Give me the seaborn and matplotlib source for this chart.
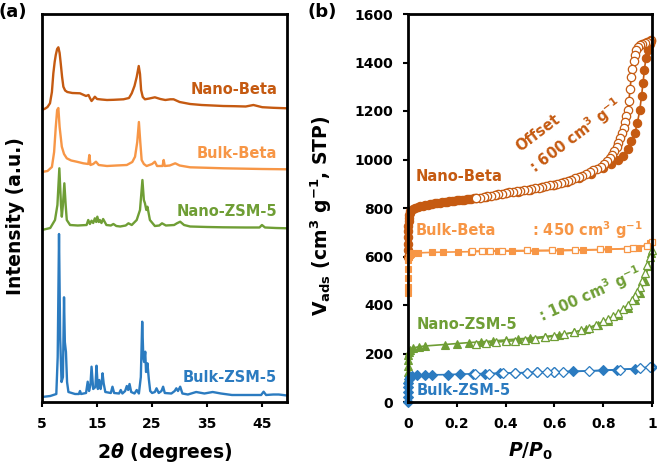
import numpy as np
import matplotlib
matplotlib.use("Agg")
import matplotlib.pyplot as plt
import seaborn as sns

# ---------------- XRD data (a) : 2theta and intensity (a.u.) ----------------
tth_nano_beta = [5.0, 5.6, 6.0, 6.45, 6.8, 7.06, 7.3, 7.5, 7.75, 7.97, 8.2, 8.4, 8.65, 8.88, 9.2, 9.6,
                 10.5, 11.9, 13.0, 13.45, 13.7, 14.0, 14.3, 14.6, 15.0, 15.8, 16.8, 18.0, 19.8, 20.8,
                 21.3, 21.8, 22.2, 22.57, 22.8, 23.0, 23.3, 23.7, 24.5, 25.5, 26.5, 27.4, 28.3, 28.9,
                 30.0, 31.9, 34.0, 36.0, 37.9, 40.0, 42.0, 43.4, 45.0, 47.0, 49.5]
int_nano_beta = [0, 1.5, 3, 6.7, 18, 36.7, 48, 55, 61, 62.7, 57, 46.7, 33, 23.3, 19.5, 18,
                 17, 16.7, 14, 15, 12, 9, 11, 13.3, 11, 10.5, 10, 10.2, 10.7, 12,
                 16.7, 24, 33, 44, 36, 20, 13, 10.7, 11.5, 12.7, 11, 10, 10.7, 10.7,
                 8, 6, 5, 4.5, 4, 3.8, 3.5, 5, 2.8, 2.2, 1.7]

tth_bulk_beta = [5.0, 6.0, 6.8, 7.2, 7.5, 7.75, 7.97, 8.2, 8.6, 9.0, 9.5, 10.3, 11.3, 12.5, 13.4,
                 13.6, 13.8, 14.3, 14.8, 15.3, 16.8, 18.5, 20.4, 21.4, 21.9, 22.3, 22.6, 22.85,
                 23.1, 23.5, 24.0, 25.0, 25.5, 25.9, 26.9, 27.1, 27.3, 28.2, 29.2, 30.0, 31.9,
                 35.0, 38.0, 42.0, 45.0, 49.5]
int_bulk_beta = [0, 1, 5, 20, 45, 62, 64, 45, 25.3, 18, 13.7, 11.5, 10.3, 8.7, 8,
                 17, 7, 8, 10.3, 7, 6, 6.5, 7, 10, 15.3, 30, 50, 30,
                 12, 8, 6, 8, 10.3, 6, 6, 12, 6, 6.5, 8.7, 6.5, 4.7,
                 4.2, 3.7, 3.3, 3, 2.7]

tth_nano_zsm = [5.0, 6.5, 7.36, 7.8, 8.15, 8.45, 8.6, 8.8, 9.06, 9.3, 9.5, 10.1, 11.5, 13.1, 13.4,
                13.7, 14.0, 14.3, 14.6, 14.85, 15.05, 15.3, 15.5, 15.8, 16.1, 16.7, 17.5, 17.97,
                18.5, 19.2, 20.2, 20.7, 21.3, 22.2, 22.8, 23.24, 23.5, 23.7, 23.95, 24.15, 24.6,
                25.5, 26.3, 26.8, 27.5, 29.0, 29.5, 30.1, 30.8, 31.9, 35.0, 37.9, 42.0, 44.5,
                44.95, 45.5, 47.5, 49.5]
int_nano_zsm = [0, 2, 10, 25, 61.7, 25, 13.3, 25, 46.7, 25, 10, 5, 4.5, 5, 10,
                6, 9.3, 7, 11.7, 8, 13.3, 8, 10, 7, 11, 5, 4.5, 6,
                4, 3.5, 4.5, 6.7, 5, 10, 20, 50, 30, 26.7, 20, 23.3, 10,
                4, 4.5, 6.7, 4.5, 5, 6.7, 8.3, 5, 3.5, 3, 2.7, 2.5, 2.5,
                5, 2.5, 2, 1.7]

tth_bulk_zsm = [5.0, 6.5, 7.6, 7.85, 8.09, 8.3, 8.55, 8.8, 9.0, 9.15, 9.35, 9.55, 9.8, 11.0, 11.7,
                11.9, 12.1, 13.0, 13.3, 13.55, 13.8, 14.0, 14.3, 14.7, 14.9, 15.15, 15.4, 15.65,
                15.85, 16.0, 16.2, 16.5, 17.5, 17.8, 18.1, 19.0, 19.3, 19.6, 20.1, 20.4, 20.65,
                20.9, 21.2, 21.8, 22.2, 22.6, 22.95, 23.2, 23.4, 23.55, 23.75, 23.9, 24.15, 24.4,
                24.65, 25.0, 25.5, 25.8, 26.2, 26.7, 27.0, 27.3, 28.5, 29.1, 29.4, 29.7, 30.1,
                30.5, 31.5, 33.0, 34.5, 36.0, 37.5, 39.5, 44.8, 45.25, 45.7, 47.0, 48.0, 49.5]
int_bulk_zsm = [0, 1, 3, 40, 163, 60, 15, 20, 99.7, 55, 45, 15, 5, 3, 3,
                6, 3, 4, 15.3, 6, 12, 30.3, 8, 10, 31.3, 8, 17, 8,
                15, 23.7, 13.7, 5, 4, 10.3, 4, 3.5, 7, 3.5, 6, 11, 7,
                13, 5, 3.5, 7, 3.5, 20, 75.3, 40, 35, 45.3, 25, 33.7, 18,
                6, 4, 5, 8.7, 4, 6, 10.3, 4, 3.5, 6, 8.7, 6, 10.3,
                3.5, 2.5, 5, 3.5, 5, 3.5, 2, 2, 5.3, 2, 2.5, 2.5, 1.5]

xrd_names = ["Nano-Beta", "Bulk-Beta", "Nano-ZSM-5", "Bulk-ZSM-5"]
xrd_stack = [292, 230, 172, 5]          # vertical stacking of the patterns (a.u.)

# ---------------- N2 isotherm data (b) : P/P0 and Vads (cm3/g STP) ----------------
p_nb_ads = [0.0, 0.0003, 0.0006, 0.001, 0.0015, 0.002, 0.003, 0.004, 0.006, 0.008, 0.01, 0.02, 0.03,
            0.04, 0.05, 0.06, 0.07, 0.08, 0.09, 0.10, 0.11, 0.12, 0.13, 0.14, 0.15, 0.16, 0.17, 0.18,
            0.19, 0.20, 0.21, 0.22, 0.23, 0.24, 0.25, 0.26, 0.27, 0.28, 0.32, 0.36, 0.40, 0.45, 0.50,
            0.55, 0.60, 0.65, 0.70, 0.75, 0.80, 0.83, 0.86, 0.88, 0.90, 0.915, 0.93, 0.94, 0.95,
            0.957, 0.963, 0.969, 0.975, 0.982, 0.99, 0.997]
v_nb_ads = [0, 25, 50, 80, 105, 125, 145, 160, 172, 180, 186, 195, 200,
            204, 207, 210, 212, 214, 216, 218, 219, 221, 222, 224, 225, 226, 228, 229,
            230, 231, 233, 234, 235, 236, 237, 238, 240, 241, 247, 253, 260, 268, 276,
            286, 296, 309, 324, 342, 365, 380, 397, 415, 445, 475, 510, 550, 605,
            660, 715, 770, 820, 850, 875, 890]
p_nb_des = [0.997, 0.99, 0.98, 0.97, 0.96, 0.95, 0.943, 0.936, 0.93, 0.925, 0.92, 0.915, 0.91, 0.905,
            0.9, 0.895, 0.89, 0.884, 0.877, 0.87, 0.862, 0.855, 0.846, 0.836, 0.826, 0.815, 0.803,
            0.79, 0.775, 0.76, 0.745, 0.73, 0.715, 0.70, 0.685, 0.67, 0.655, 0.64, 0.625, 0.61,
            0.595, 0.58, 0.565, 0.55, 0.535, 0.52, 0.505, 0.49, 0.475, 0.46, 0.445, 0.43, 0.415,
            0.40, 0.385, 0.37, 0.355, 0.34, 0.325, 0.31, 0.295, 0.28]
v_nb_des = [893, 890, 886, 882, 878, 872, 865, 852, 830, 805, 775, 740, 690, 640,
            605, 580, 555, 530, 508, 490, 470, 453, 436, 420, 405, 393, 380,
            370, 362, 355, 348, 341, 334, 328, 322, 317, 312, 308, 304, 300,
            296, 293, 290, 287, 284, 281, 279, 276, 274, 271, 269, 266, 264,
            262, 259, 257, 254, 251, 248, 246, 243, 241]

p_bb_ads = [0.0, 0.0003, 0.0006, 0.001, 0.002, 0.004, 0.007, 0.012, 0.02, 0.042, 0.097, 0.145, 0.206,
            0.26, 0.32, 0.37, 0.425, 0.52, 0.623, 0.719, 0.821, 0.944, 0.99]
v_bb_ads = [0, 25, 60, 100, 135, 150, 157, 161, 163, 165, 167, 168, 169,
            170, 171, 172, 172, 173, 174, 176, 179, 186, 205]
p_bb_des = [0.999, 0.978, 0.923, 0.896, 0.787, 0.684, 0.589, 0.486, 0.384, 0.336, 0.302, 0.261]
v_bb_des = [208, 195, 184, 182, 179, 177, 176, 175, 174, 173, 173, 172]

p_nz_ads = [0.0, 0.0003, 0.0006, 0.001, 0.002, 0.004, 0.008, 0.02, 0.045, 0.07, 0.15, 0.2, 0.25, 0.3,
            0.35, 0.4, 0.45, 0.5, 0.56, 0.62, 0.68, 0.73, 0.78, 0.82, 0.86, 0.9, 0.93, 0.95, 0.97,
            0.985, 0.995]
v_nz_ads = [0, 25, 50, 75, 95, 107, 116, 123, 128, 131, 137, 141, 145, 148,
            152, 156, 160, 164, 170, 177, 187, 200, 218, 236, 258, 288, 320, 350, 400,
            460, 515]
p_nz_des = [0.998, 0.99, 0.98, 0.97, 0.96, 0.95, 0.94, 0.93, 0.92, 0.9, 0.88, 0.86, 0.84, 0.82, 0.8,
            0.77, 0.74, 0.71, 0.68, 0.64, 0.6, 0.56, 0.52, 0.48, 0.44, 0.4, 0.36, 0.32, 0.28]
v_nz_des = [525, 500, 465, 430, 400, 375, 355, 337, 322, 300, 282, 266, 253, 242, 232,
            218, 206, 196, 188, 179, 172, 166, 161, 157, 153, 150, 147, 144, 141]

p_bz_ads = [0.0, 0.0003, 0.0006, 0.001, 0.002, 0.004, 0.008, 0.015, 0.036, 0.07, 0.10, 0.165, 0.213,
            0.265, 0.316, 0.377, 0.44, 0.486, 0.527, 0.6, 0.678, 0.8, 0.855, 0.93, 0.999]
v_bz_ads = [0, 20, 40, 60, 80, 95, 102, 107, 110, 111, 112, 113, 115,
            116, 117, 118, 120, 121, 122, 124, 126, 130, 133, 137, 145]
p_bz_des = [0.992, 0.951, 0.869, 0.74, 0.637, 0.6, 0.568, 0.527, 0.486, 0.44, 0.39, 0.33, 0.275]
v_bz_des = [144, 139, 134, 128, 125, 124, 123, 122, 121, 120, 118, 117, 116]

iso_offsets = [600, 450, 100, 0]       # cm3/g offsets used in the figure
offset_labels = ["Offset\n: 600 cm$^\\mathrm{3}$ g$^\\mathrm{-1}$", ": 450 cm$^\\mathrm{3}$ g$^\\mathrm{-1}$",
                 ": 100 cm$^\\mathrm{3}$ g$^\\mathrm{-1}$"]

colors = ["#C55A11", "#F79646", "#6F9E35", "#2B7BC0"]

# ---------------- style ----------------
sns.set_style("ticks")
plt.rcParams.update({
    "font.family": ["DejaVu Sans"],
    "font.weight": "bold",
    "axes.labelweight": "bold",
    "mathtext.fontset": "custom",
    "mathtext.rm": "DejaVu Sans:bold",
    "mathtext.it": "DejaVu Sans:italic:bold",
    "mathtext.bf": "DejaVu Sans:bold",
    "axes.edgecolor": "black",
    "axes.linewidth": 2.0,
    "text.color": "black",
    "axes.labelcolor": "black",
    "xtick.color": "black",
    "ytick.color": "black",
    "xtick.labelcolor": "black",
    "ytick.labelcolor": "black",
})

W, H = 657, 467
fig = plt.figure(figsize=(W / 100, H / 100), dpi=100)
ax1 = fig.add_axes([42 / W, 65 / H, 245 / W, 388 / H])
ax2 = fig.add_axes([408 / W, 65 / H, 244 / W, 388 / H])

# ---------------- (a) XRD ----------------
xrd = [(tth_nano_beta, int_nano_beta), (tth_bulk_beta, int_bulk_beta),
       (tth_nano_zsm, int_nano_zsm), (tth_bulk_zsm, int_bulk_zsm)]
for (tt, it), off, c in zip(xrd, xrd_stack, colors):
    sns.lineplot(x=tt, y=np.asarray(it) + off, color=c, linewidth=1.7, ax=ax1,
                 estimator=None, sort=False)

label_y = [312, 248, 191, 25]
for name, ly, c in zip(xrd_names, label_y, colors):
    ax1.text(47.7, ly, name, ha="right", va="center", color=c, fontsize=10.5, fontweight="bold")

ax1.set_xlim(5, 49.5)
ax1.set_ylim(0, 388)
ax1.set_yticks([])
ax1.set_xticks([5, 15, 25, 35, 45])
ax1.set_xticklabels(["5", "15", "25", "35", "45"])
ax1.set_xlabel("2$\\theta$ (degrees)", fontsize=13.5, fontweight="bold", color="black")
ax1.set_ylabel("Intensity (a.u.)", fontsize=13.5, fontweight="bold", color="black")
ax1.xaxis.set_label_coords(0.5, -0.10)
ax1.yaxis.set_label_coords(-0.07, 0.48)

# ---------------- (b) isotherms ----------------
iso = [
    (p_nb_ads, v_nb_ads, p_nb_des, v_nb_des, "o", 6.0),
    (p_bb_ads, v_bb_ads, p_bb_des, v_bb_des, "s", 5.0),
    (p_nz_ads, v_nz_ads, p_nz_des, v_nz_des, "^", 6.0),
    (p_bz_ads, v_bz_ads, p_bz_des, v_bz_des, "D", 4.6),
]
for (pa, va, pd_, vd, mk, ms), off, c in zip(iso, iso_offsets, colors):
    sns.lineplot(x=pa, y=np.asarray(va) + off, ax=ax2, color=c, linewidth=1.2,
                 marker=mk, markersize=ms, markerfacecolor=c, markeredgecolor=c,
                 markeredgewidth=0.8, estimator=None, sort=False)
    sns.lineplot(x=pd_, y=np.asarray(vd) + off, ax=ax2, color=c, linewidth=1.2,
                 marker=mk, markersize=ms, markerfacecolor="white", markeredgecolor=c,
                 markeredgewidth=0.9, estimator=None, sort=False)
for ln in ax2.lines:
    ln.set_clip_on(False)

ax2.text(0.033, 928, "Nano-Beta", ha="left", va="center", color=colors[0], fontsize=10.5, fontweight="bold")
ax2.text(0.033, 709, "Bulk-Beta", ha="left", va="center", color=colors[1], fontsize=10.5, fontweight="bold")
ax2.text(0.037, 318, "Nano-ZSM-5", ha="left", va="center", color=colors[2], fontsize=10.5, fontweight="bold")
ax2.text(0.037, 49, "Bulk-ZSM-5", ha="left", va="center", color=colors[3], fontsize=10.5, fontweight="bold")

ax2.text(0.459, 1032, "Offset", rotation=37, rotation_mode="anchor", ha="left", va="baseline",
         color=colors[0], fontsize=10.5, fontweight="bold")
ax2.text(0.52, 940, offset_labels[0].split("\n")[1], rotation=37, rotation_mode="anchor", ha="left",
         va="baseline", color=colors[0], fontsize=10.5, fontweight="bold")
ax2.text(0.51, 709, offset_labels[1], ha="left", va="center", color=colors[1], fontsize=10.5,
         fontweight="bold")
ax2.text(0.548, 329, offset_labels[2], rotation=24, rotation_mode="anchor", ha="left", va="baseline",
         color=colors[2], fontsize=10.5, fontweight="bold")

ax2.set_xlim(0, 1)
ax2.set_ylim(0, 1600)
ax2.set_xticks([0, 0.2, 0.4, 0.6, 0.8, 1.0])
ax2.set_xticklabels(["0", "0.2", "0.4", "0.6", "0.8", "1"])
ax2.set_yticks(range(0, 1601, 200))
ax2.set_xlabel("$P/P_\\mathrm{0}$", fontsize=13.5, fontweight="bold", color="black")
ax2.set_ylabel("V$_\\mathrm{ads}$ (cm$^\\mathrm{3}$ g$^\\mathrm{-1}$, STP)", fontsize=13.5,
               fontweight="bold", color="black")
ax2.xaxis.set_label_coords(0.5, -0.10)
ax2.yaxis.set_label_coords(-0.305, 0.48)

for ax in (ax1, ax2):
    for s in ax.spines.values():
        s.set_visible(True)
        s.set_linewidth(2.0)
        s.set_color("black")
    ax.tick_params(axis="both", direction="out", length=3.5, width=1.5, pad=7,
                   labelsize=10, colors="black", labelcolor="black")
    for lab in ax.get_xticklabels() + ax.get_yticklabels():
        lab.set_fontweight("bold")
        lab.set_color("black")
    ax.set_facecolor("white")

fig.text(13 / W, 1 - 12 / H, "(a)", ha="center", va="center", fontsize=13, fontweight="bold",
         color="black")
fig.text(322 / W, 1 - 12 / H, "(b)", ha="center", va="center", fontsize=13, fontweight="bold",
         color="black")

fig.savefig("out.png", dpi=100, facecolor="white")
